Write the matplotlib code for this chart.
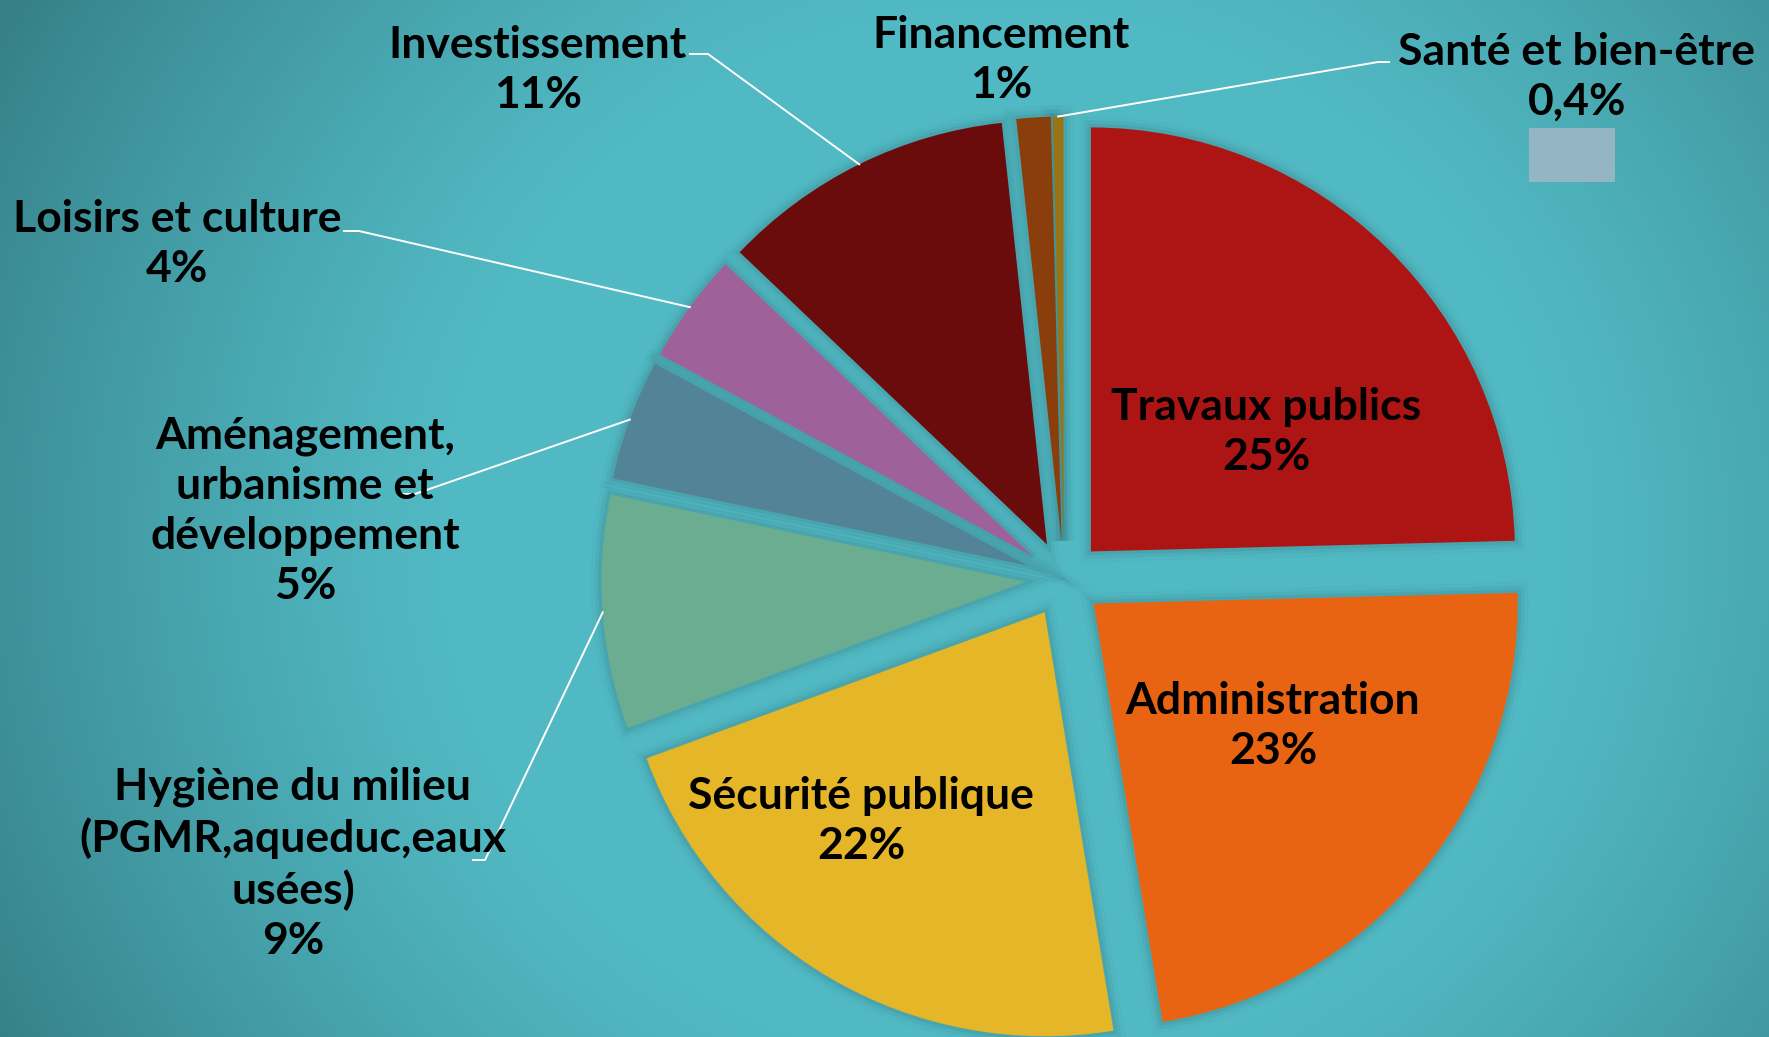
import matplotlib
matplotlib.use("Agg")
import matplotlib.pyplot as plt
import numpy as np
from matplotlib.patches import Rectangle, Wedge

# data (share of budget, clockwise from the top)
categories = ["Travaux publics", "Administration", "Sécurité publique",
              "Hygiène du milieu\n(PGMR,aqueduc,eaux\nusées)",
              "Aménagement,\nurbanisme et\ndéveloppement",
              "Loisirs et culture", "Investissement", "Financement",
              "Santé et bien-être"]
values = [24.6, 22.8, 22.0, 8.9, 4.6, 4.2, 11.2, 1.3, 0.4]
colors = ["#ad1515", "#e86312", "#e5b628", "#6aad90", "#528397",
          "#9e6199", "#6a0c0c", "#8a3e0c", "#9a7414"]

W, H = 1769, 1037
CX, CY, R = 1064, 579, 424
EXPLODE = 38.5  # pie() takes explode in data units, so pixels here

plt.rcParams["font.family"] = ["Lato", "DejaVu Sans"]

fig = plt.figure(figsize=(W / 100, H / 100), dpi=100)
ax = fig.add_axes([0, 0, 1, 1])

# radial teal background, light in the middle, darker toward the corners
yy, xx = np.mgrid[0:H, 0:W]
dist = np.hypot(xx - 1000, (yy - 540) * 1.05)
t = np.clip((dist - 560) / 580, 0, 1) ** 1.2
light = np.array([81, 185, 195]) / 255
dark = np.array([54, 128, 136]) / 255
bg = light[None, None, :] * (1 - t[..., None]) + dark[None, None, :] * t[..., None]
ax.imshow(bg, extent=(0, W, H, 0), zorder=0, aspect="auto")

wedges, _ = ax.pie(values, colors=colors, startangle=-90, counterclock=True,
                   radius=R, center=(CX, CY), explode=[EXPLODE] * len(values),
                   wedgeprops=dict(linewidth=0, zorder=3))

# soft shadow under every slice
for w in wedges:
    for lw, a in [(16, 0.02), (10, 0.035), (5, 0.05)]:
        sh = Wedge(w.center, w.r, w.theta1, w.theta2, facecolor="none",
                   edgecolor="black", linewidth=lw, alpha=a, zorder=2)
        ax.add_patch(sh)


def pct(v):
    if v < 1:
        return f"{v:.1f}".replace(".", ",") + "%"
    return f"{round(v)}%"


def edge_point(w):
    th = np.deg2rad((w.theta1 + w.theta2) / 2)
    return w.center[0] + w.r * np.cos(th), w.center[1] + w.r * np.sin(th)


# label block centres (x, y) and leader elbows (start, elbow) in pixels
label_pos = [(1266, 432), (1273, 726), (861, 821), (293, 864), (305, 511),
             (177, 244), (538, 70), (1001, 60), (1577, 77)]
leaders = {3: ((473, 860), (485, 860)),
           4: ((398, 494), (415, 494)),
           5: ((344, 231), (359, 231)),
           6: ((690, 54), (708, 54)),
           8: ((1389, 62), (1378, 62))}

for i, (name, v) in enumerate(zip(categories, values)):
    x, y = label_pos[i]
    ax.text(x, y, f"{name}\n{pct(v)}", ha="center", va="center",
            fontsize=32, fontweight="bold", color="black", zorder=5,
            linespacing=1.3)
    if i in leaders:
        (x0, y0), (x1, y1) = leaders[i]
        x2, y2 = edge_point(wedges[i])
        ax.plot([x0, x1, x2], [y0, y1, y2], color="white", lw=1.4, zorder=4)

# stray legend key next to the small slice
ax.add_patch(Rectangle((1529, 128), 86, 54, facecolor="#93b5c4",
                       edgecolor="none", zorder=4))

ax.set_xlim(0, W)
ax.set_ylim(H, 0)
ax.set_aspect("auto")
ax.axis("off")

fig.savefig("out.png", dpi=100)
